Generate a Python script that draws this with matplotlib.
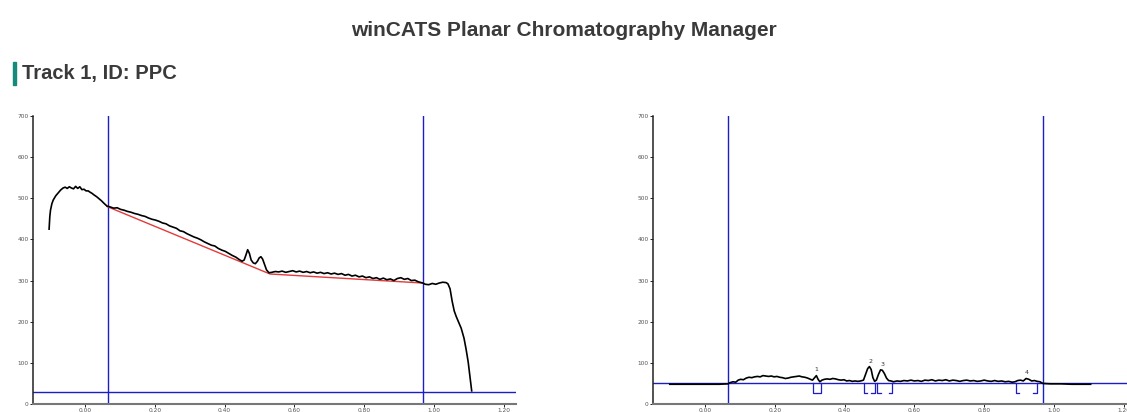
import matplotlib
matplotlib.use('Agg')
import matplotlib.pyplot as plt
import matplotlib.patches as patches

# --- data (Rf, AU) ---
# track 1, left panel: raw scan
raw_rf = [-0.103, -0.101, -0.099, -0.095, -0.091, -0.084, -0.077, -0.070, -0.063, -0.057,
          -0.051, -0.045, -0.039, -0.033, -0.027, -0.021, -0.015, -0.009, -0.003, 0.003,
          0.009, 0.014, 0.020, 0.026, 0.033, 0.040, 0.047, 0.054, 0.063,
          0.072, 0.082, 0.092, 0.102, 0.112, 0.122, 0.132, 0.142, 0.152, 0.162,
          0.172, 0.182, 0.192, 0.202, 0.212, 0.222, 0.232, 0.242, 0.252, 0.262,
          0.272, 0.282, 0.292, 0.302, 0.312, 0.322, 0.332, 0.342, 0.352, 0.362,
          0.372, 0.382, 0.392, 0.402, 0.412, 0.422, 0.432, 0.442, 0.450, 0.456,
          0.461, 0.466, 0.471, 0.476, 0.482, 0.488, 0.494, 0.499, 0.504, 0.509,
          0.514, 0.520, 0.527, 0.535, 0.545, 0.555, 0.565, 0.575, 0.585, 0.595,
          0.605, 0.615, 0.625, 0.635, 0.645, 0.655, 0.665, 0.675, 0.685, 0.695,
          0.705, 0.715, 0.725, 0.735, 0.745, 0.755, 0.765, 0.775, 0.785, 0.795,
          0.805, 0.815, 0.825, 0.835, 0.845, 0.855, 0.865, 0.875, 0.885, 0.895,
          0.905, 0.915, 0.925, 0.935, 0.945, 0.955, 0.968, 0.975, 0.985, 0.995,
          1.005, 1.015, 1.025, 1.035, 1.040, 1.046, 1.052, 1.058, 1.064, 1.070,
          1.078, 1.086, 1.092, 1.098, 1.103, 1.108]
raw_au = [425, 455, 471, 487, 496, 506, 513, 520, 525, 527,
          524, 528, 525, 523, 529, 524, 528, 521, 522, 518,
          518, 515, 512, 508, 504, 499, 494, 488, 481,
          479, 476, 477, 473, 471, 468, 466, 463, 461, 458,
          456, 452, 449, 447, 444, 440, 438, 433, 430, 427,
          421, 419, 414, 410, 406, 403, 399, 394, 390, 386,
          384, 378, 374, 371, 366, 361, 357, 351, 347, 350,
          362, 375, 366, 350, 343, 341, 347, 355, 358, 352,
          340, 326, 319, 320, 322, 321, 323, 320, 322, 324,
          321, 323, 320, 322, 319, 321, 318, 320, 317, 319,
          316, 318, 315, 317, 313, 315, 311, 313, 309, 311,
          307, 309, 305, 307, 303, 306, 302, 304, 300, 305,
          307, 303, 305, 300, 301, 297, 294, 291, 290, 293,
          291, 294, 296, 295, 292, 280, 250, 226, 212, 200,
          184, 160, 133, 102, 68, 32]
base_rf = [0.063, 0.530, 0.968]
base_au = [480, 316, 294]
left_front = [0.065, 0.968]
left_level = 30

# right panel: baseline corrected scan
cor_rf = [-0.101, -0.080, -0.050, -0.020, 0.010, 0.040, 0.066, 0.072, 0.080, 0.088,
          0.095, 0.102, 0.110, 0.118, 0.126, 0.134, 0.142, 0.150, 0.158, 0.166,
          0.174, 0.182, 0.190, 0.198, 0.206, 0.214, 0.222, 0.230, 0.238, 0.246,
          0.254, 0.262, 0.270, 0.278, 0.286, 0.294, 0.302, 0.308, 0.314, 0.319,
          0.324, 0.329, 0.335, 0.342, 0.350, 0.358, 0.366, 0.374, 0.382, 0.390,
          0.398, 0.406, 0.414, 0.422, 0.430, 0.438, 0.446, 0.454, 0.460, 0.466,
          0.471, 0.476, 0.481, 0.486, 0.491, 0.497, 0.503, 0.508, 0.514, 0.520,
          0.526, 0.533, 0.540, 0.550, 0.560, 0.570, 0.580, 0.590, 0.600, 0.610,
          0.620, 0.630, 0.640, 0.650, 0.660, 0.670, 0.680, 0.690, 0.700, 0.710,
          0.720, 0.730, 0.740, 0.750, 0.760, 0.770, 0.780, 0.790, 0.800, 0.810,
          0.820, 0.830, 0.840, 0.850, 0.860, 0.870, 0.880, 0.888, 0.896, 0.904,
          0.912, 0.920, 0.928, 0.936, 0.944, 0.952, 0.960, 0.968, 0.990, 1.020,
          1.050, 1.080, 1.105]
cor_au = [48, 48, 48, 48, 48, 48, 49, 52, 54, 53,
          58, 60, 59, 63, 65, 64, 66, 67, 66, 69,
          68, 67, 68, 66, 67, 65, 64, 62, 63, 65,
          66, 67, 68, 66, 65, 63, 60, 58, 64, 69,
          60, 54, 58, 60, 61, 60, 62, 61, 59, 58,
          59, 56, 57, 55, 56, 55, 56, 58, 72, 86,
          91, 84, 64, 55, 58, 72, 83, 82, 74, 63,
          57, 56, 54, 56, 55, 57, 56, 58, 56, 57,
          55, 58, 57, 59, 56, 58, 57, 59, 56, 58,
          57, 55, 57, 58, 56, 57, 55, 56, 58, 56,
          55, 57, 55, 56, 54, 55, 53, 54, 57, 58,
          56, 62, 60, 56, 57, 55, 54, 50, 49, 49,
          48, 48, 48]
right_front = [0.066, 0.968]
right_level = 50
peak_ids = ['1', '2', '3', '4']
peak_start = [0.309, 0.455, 0.493, 0.890]
peak_end = [0.331, 0.486, 0.537, 0.950]
peak_label_rf = [0.320, 0.474, 0.510, 0.922]
peak_label_au = [83, 103, 97, 77]
mark_depth = 24

x_ticks = [0.0, 0.2, 0.4, 0.6, 0.8, 1.0, 1.2]
y_ticks = [0, 100, 200, 300, 400, 500, 600, 700]

BLUE = '#1c1cc8'
RED = '#e33a3a'

fig = plt.figure(figsize=(11.27, 4.12), dpi=100)
fig.text(0.5, 1 - 30 / 412, 'winCATS Planar Chromatography Manager', ha='center', va='center',
         fontsize=15, fontweight='bold', color='#3a3a3a', family='Liberation Sans')
fig.patches.append(patches.Rectangle((13 / 1127, 1 - 85 / 412), 3 / 1127, 23 / 412,
                                     transform=fig.transFigure, color='#168a7c'))
fig.text(22 / 1127, 1 - 73 / 412, 'Track 1, ID: PPC', ha='left', va='center',
         fontsize=14.5, fontweight='bold', color='#3a3a3a', family='Liberation Sans')


def setup(ax):
    ax.set_xlim(-0.15, 1.235)
    ax.set_ylim(0, 700)
    ax.set_xticks(x_ticks)
    ax.set_xticklabels(['%.2f' % t for t in x_ticks])
    ax.set_yticks(y_ticks)
    for s in ['top', 'right']:
        ax.spines[s].set_visible(False)
    ax.spines['left'].set_color('#222222')
    ax.spines['left'].set_linewidth(1.1)
    ax.spines['bottom'].set_color('#777777')
    ax.spines['bottom'].set_linewidth(1.5)
    ax.tick_params(labelsize=4.2, labelcolor='#555555', length=2, width=0.6, pad=1)


w = (516 - 32.7) / 1127
h = 288 / 412
b = 8 / 412

ax0 = fig.add_axes([32.7 / 1127, b, w, h])
setup(ax0)
ax0.axhline(left_level, color=BLUE, lw=1.0)
for f in left_front:
    ax0.axvline(f, color=BLUE, lw=1.0)
ax0.plot(base_rf, base_au, color=RED, lw=1.0)
ax0.plot(raw_rf, raw_au, color='black', lw=1.2)

ax1 = fig.add_axes([652.7 / 1127, b, w, h])
setup(ax1)
ax1.axhline(right_level, color=BLUE, lw=1.0)
for f in right_front:
    ax1.axvline(f, color=BLUE, lw=1.0)
ax1.plot(cor_rf, cor_au, color='black', lw=1.2)
# integration marks under each peak
low = right_level - mark_depth
for pid, s, e, lx, ly in zip(peak_ids, peak_start, peak_end, peak_label_rf, peak_label_au):
    tick = min(0.010, (e - s) / 2)
    ax1.plot([s, s, s + tick], [right_level, low, low], color=BLUE, lw=0.9)
    ax1.plot([e - tick, e, e], [low, low, right_level], color=BLUE, lw=0.9)
    ax1.text(lx, ly, pid, fontsize=4.5, color='#333333', ha='center', va='center')

plt.savefig('out.png', dpi=100)
